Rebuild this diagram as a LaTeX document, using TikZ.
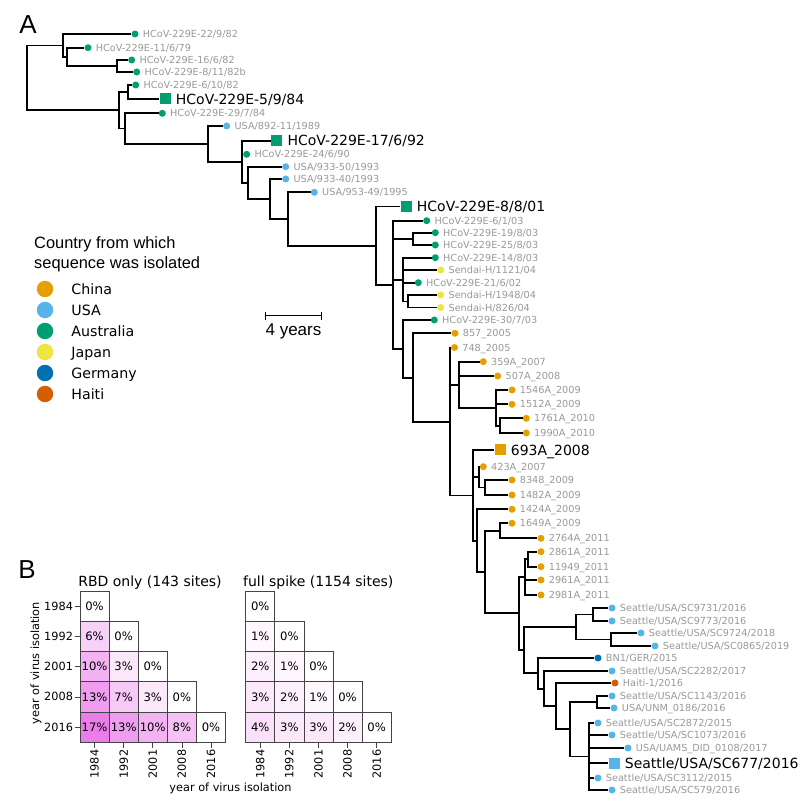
\documentclass[tikz,border=0pt]{standalone}
\usepackage{fontspec}
\setmainfont{DejaVu Sans}
\newfontfamily\arialfont{Liberation Sans}
\usetikzlibrary{arrows.meta}
\definecolor{chn}{HTML}{E69F00}
\definecolor{usa}{HTML}{56B4E9}
\definecolor{aus}{HTML}{009E73}
\definecolor{jpn}{HTML}{F0E442}
\definecolor{ger}{HTML}{0072B2}
\definecolor{hai}{HTML}{D55E00}
\definecolor{labgray}{HTML}{999999}
\definecolor{heat}{RGB}{235,125,235}
\definecolor{cellline}{HTML}{444444}
\newcommand{\tipfont}{\fontsize{9.7}{11}\selectfont}
\newcommand{\reffont}{\fontsize{14}{16}\selectfont}
\newcommand{\heatfont}{\fontsize{11.6}{13}\selectfont}
\newcommand{\axfont}{\fontsize{11.3}{13}\selectfont}
% tip of the tree: name, x, y, country colour, strain
\newcommand{\seqtip}[5]{\node[tipdot=#4] (#1) at (#2,#3) {};
  \node[tiplab] (#1l) at ([xshift=4pt]#1.east) {#5};}
\newcommand{\refseq}[5]{\node[refbox=#4] (#1) at (#2,#3) {};
  \node[reflab] (#1l) at ([xshift=5pt]#1.east) {#5};}

\begin{document}
\begin{tikzpicture}[x=1pt, y=-1pt,
  branch/.style={line width=1.7pt},
  tipdot/.style={circle, fill=#1, inner sep=0pt, minimum size=7pt},
  refbox/.style={fill=#1, inner sep=0pt, minimum size=11pt},
  tiplab/.style={anchor=west, inner sep=0pt, text=labgray, font=\tipfont, text height=7.1pt, text depth=0pt},
  reflab/.style={anchor=west, inner sep=0pt, font=\reffont, text height=10.2pt, text depth=0pt},
  legdot/.style={circle, fill=#1, inner sep=0pt, minimum size=16.5pt},
  leglab/.style={anchor=west, inner sep=0pt, font=\fontsize{14.2}{16}\selectfont, text height=10.3pt, text depth=0pt},
  cell/.style={draw=cellline, line width=0.7pt, minimum width=29.1pt, minimum height=30.25pt, inner sep=0pt, font=\heatfont, text height=8.4pt, text depth=0pt},
  axlab/.style={inner sep=0pt, font=\axfont, text height=8.2pt, text depth=0pt},
  tick/.style={line width=0.7pt, cellline}]
\useasboundingbox[fill=white] (0,0) rectangle (807,799);

\node[font=\arialfont\fontsize{26}{28}\selectfont, inner sep=0pt, text height=18.6pt, text depth=0pt] (panA) at (28,24) {A};
\node[font=\arialfont\fontsize{26}{28}\selectfont, inner sep=0pt, text height=18.6pt, text depth=0pt] (panB) at (27,569) {B};

% tips
\seqtip{t1}{135}{34}{aus}{HCoV-229E-22/9/82}
\seqtip{t2}{88}{47.7}{aus}{HCoV-229E-11/6/79}
\seqtip{t3}{131.7}{60}{aus}{HCoV-229E-16/6/82}
\seqtip{t4}{136.7}{72}{aus}{HCoV-229E-8/11/82b}
\seqtip{t5}{135.7}{85}{aus}{HCoV-229E-6/10/82}
\refseq{t6}{165}{99}{aus}{HCoV-229E-5/9/84}
\seqtip{t7}{162.3}{113.3}{aus}{HCoV-229E-29/7/84}
\seqtip{t8}{226.7}{126}{usa}{USA/892-11/1989}
\refseq{t9}{276.7}{140.7}{aus}{HCoV-229E-17/6/92}
\seqtip{t10}{246.7}{154.3}{aus}{HCoV-229E-24/6/90}
\seqtip{t11}{285.7}{166.7}{usa}{USA/933-50/1993}
\seqtip{t12}{285.7}{179}{usa}{USA/933-40/1993}
\seqtip{t13}{314.3}{192.3}{usa}{USA/953-49/1995}
\refseq{t14}{406}{206.5}{aus}{HCoV-229E-8/8/01}
\seqtip{t15}{426.7}{220.7}{aus}{HCoV-229E-6/1/03}
\seqtip{t16}{435.3}{232.7}{aus}{HCoV-229E-19/8/03}
\seqtip{t17}{435.3}{245}{aus}{HCoV-229E-25/8/03}
\seqtip{t18}{435.3}{257.7}{aus}{HCoV-229E-14/8/03}
\seqtip{t19}{440.7}{270}{jpn}{Sendai-H/1121/04}
\seqtip{t20}{418.3}{282.7}{aus}{HCoV-229E-21/6/02}
\seqtip{t21}{440.7}{295}{jpn}{Sendai-H/1948/04}
\seqtip{t22}{440.7}{307.5}{jpn}{Sendai-H/826/04}
\seqtip{t23}{434.3}{320}{aus}{HCoV-229E-30/7/03}
\seqtip{t24}{455}{333.3}{chn}{857\_2005}
\seqtip{t25}{454.5}{347.5}{chn}{748\_2005}
\seqtip{t26}{483.3}{361.7}{chn}{359A\_2007}
\seqtip{t27}{497.7}{376}{chn}{507A\_2008}
\seqtip{t28}{512}{390}{chn}{1546A\_2009}
\seqtip{t29}{512}{404.3}{chn}{1512A\_2009}
\seqtip{t30}{526.3}{418.3}{chn}{1761A\_2010}
\seqtip{t31}{526.3}{433}{chn}{1990A\_2010}
\refseq{t32}{500}{450}{chn}{693A\_2008}
\seqtip{t33}{483.3}{466.7}{chn}{423A\_2007}
\seqtip{t34}{512}{480}{chn}{8348\_2009}
\seqtip{t35}{512}{495}{chn}{1482A\_2009}
\seqtip{t36}{512}{509.3}{chn}{1424A\_2009}
\seqtip{t37}{512}{523.3}{chn}{1649A\_2009}
\seqtip{t38}{541}{538.3}{chn}{2764A\_2011}
\seqtip{t39}{541}{551.7}{chn}{2861A\_2011}
\seqtip{t40}{541}{566.7}{chn}{11949\_2011}
\seqtip{t41}{541}{580}{chn}{2961A\_2011}
\seqtip{t42}{541}{595}{chn}{2981A\_2011}
\seqtip{t43}{612}{608}{usa}{Seattle/USA/SC9731/2016}
\seqtip{t44}{612}{621}{usa}{Seattle/USA/SC9773/2016}
\seqtip{t45}{641}{633}{usa}{Seattle/USA/SC9724/2018}
\seqtip{t46}{655}{646}{usa}{Seattle/USA/SC0865/2019}
\seqtip{t47}{598}{658}{ger}{BN1/GER/2015}
\seqtip{t48}{612}{671}{usa}{Seattle/USA/SC2282/2017}
\seqtip{t49}{615}{683}{hai}{Haiti-1/2016}
\seqtip{t50}{612}{696}{usa}{Seattle/USA/SC1143/2016}
\seqtip{t51}{614}{708}{usa}{USA/UNM\_0186/2016}
\seqtip{t52}{598}{723}{usa}{Seattle/USA/SC2872/2015}
\seqtip{t53}{612}{735}{usa}{Seattle/USA/SC1073/2016}
\seqtip{t54}{628}{748}{usa}{USA/UAMS\_DID\_0108/2017}
\refseq{t55}{614}{763}{usa}{Seattle/USA/SC677/2016}
\seqtip{t56}{598}{778}{usa}{Seattle/USA/SC3112/2015}
\seqtip{t57}{612}{790}{usa}{Seattle/USA/SC579/2016}

% internal nodes
\coordinate (root) at (26.7,78);
\coordinate (n1) at (63.3,45.5);  \coordinate (n2) at (66.7,57);   \coordinate (n3) at (116.7,66);
\coordinate (n4) at (119,110.25); \coordinate (n5) at (128.3,92);  \coordinate (n6) at (125,128.5);
\coordinate (n7) at (208.3,144);  \coordinate (n8) at (241.7,162); \coordinate (n9) at (248.3,183);
\coordinate (n10) at (270,199);   \coordinate (n11) at (287.7,219); \coordinate (nz) at (376,246);
\coordinate (naa) at (392.7,285); \coordinate (nab) at (413.3,239); \coordinate (nac) at (402.7,280);
\coordinate (nad) at (407.7,301.5); \coordinate (ny) at (402.7,349); \coordinate (nx) at (413.3,378);
\coordinate (nt) at (450,422);    \coordinate (nu) at (459.3,385); \coordinate (nv) at (496,408);
\coordinate (nw) at (500.3,425.7); \coordinate (ns) at (473.3,495.5); \coordinate (nq) at (479,477);
\coordinate (nr) at (485,487.5);  \coordinate (np) at (477.3,541); \coordinate (nn) at (485,572);
\coordinate (no) at (500.3,530.8); \coordinate (nk) at (519.3,613); \coordinate (nl) at (525,577);
\coordinate (nl1) at (528,559.2); \coordinate (nm) at (524.3,650); \coordinate (nc) at (576,627);
\coordinate (na) at (593.3,614.5); \coordinate (nb) at (610.7,639.5); \coordinate (ne) at (537.7,673);
\coordinate (nf) at (544,689);    \coordinate (ng) at (555.7,706); \coordinate (nh) at (570.3,729);
\coordinate (ni) at (597.3,702);  \coordinate (nj) at (589,756.5);

% branches
\foreach \p/\c in {root/n1,root/n4,n1/t1,n1/n2,n2/t2,n2/n3,n3/t3,n3/t4,
    n4/n5,n4/n6,n5/t5,n5/t6,n6/t7,n6/n7,n7/t8,n7/n8,n8/t9,n8/t10,n8/n9,
    n9/t11,n9/n10,n10/t12,n10/n11,n11/t13,n11/nz,nz/t14,nz/naa,
    naa/t15,naa/nab,naa/nac,naa/ny,nab/t16,nab/t17,nac/t18,nac/t19,nac/t20,nac/nad,nad/t21,nad/t22,
    ny/t23,ny/nx,nx/t24,nx/nt,nt/t25,nt/nu,nt/ns,nu/t26,nu/t27,nu/nv,nv/t28,nv/t29,nv/nw,nw/t30,nw/t31,
    ns/t32,ns/nq,ns/np,nq/t33,nq/nr,nr/t34,nr/t35,np/t36,np/nn,nn/no,nn/nk,no/t37,no/t38,
    nk/nl,nk/nm,nl/nl1,nl/t41,nl/t42,nl1/t39,nl1/t40,nm/nc,nm/ne,nc/na,nc/nb,na/t43,na/t44,nb/t45,nb/t46,
    ne/t47,ne/nf,nf/t48,nf/ng,ng/t49,ng/nh,nh/ni,nh/nj,ni/t50,ni/t51,
    nj/t52,nj/t53,nj/t54,nj/t55,nj/t56,nj/t57}
  \draw[branch] (\p) |- (\c);

% legend
\node[anchor=base west, inner sep=0pt, font=\arialfont\fontsize{16.4}{18}\selectfont] (legt1) at (34,249) {Country from which};
\node[anchor=base west, inner sep=0pt, font=\arialfont\fontsize{16.4}{18}\selectfont] (legt2) at (34,268.5) {sequence was isolated};
\foreach \c/\t [count=\i from 0] in {chn/China,usa/USA,aus/Australia,jpn/Japan,ger/Germany,hai/Haiti} {
  \node[legdot=\c] (k\c) at (45,{289+21*\i}) {};
  \node[leglab] (kl\c) at ([xshift=17.75pt]k\c.east) {\t};
}

% scale bar
\coordinate (sbl) at (265,316);
\coordinate (sbr) at (322,316);
\draw[line width=1pt, {Bar[width=8pt]}-{Bar[width=8pt]}] (sbl) -- (sbr);
\node[inner sep=0pt, font=\arialfont\fontsize{17}{19}\selectfont, text height=12.2pt, text depth=0pt] (sbt) at (293.5,329) {4 years};

% panel B
\node[axlab, font=\fontsize{14}{16}\selectfont, text height=10.2pt] (rbdt) at (150,581.5) {RBD only (143 sites)};
\node[axlab, font=\fontsize{14}{16}\selectfont, text height=10.2pt] (spkt) at (318.3,581.5) {full spike (1154 sites)};
\foreach \r/\vals in {0/{0},1/{6,0},2/{10,3,0},3/{13,7,3,0},4/{17,13,10,8,0}} {
  \foreach \v [count=\c from 0] in \vals {
    \pgfmathsetmacro{\pct}{\v/17*100}
    \node[cell, fill=heat!\pct!white] (rbd\r\c) at ({80+(\c+0.5)*29.1},{591+(\r+0.5)*30.25}) {\v\%};
  }
}
\foreach \r/\vals in {0/{0},1/{1,0},2/{2,1,0},3/{3,2,1,0},4/{4,3,3,2,0}} {
  \foreach \v [count=\c from 0] in \vals {
    \pgfmathsetmacro{\pct}{\v/17*100}
    \node[cell, fill=heat!\pct!white] (spk\r\c) at ({245.7+(\c+0.5)*29.1},{591+(\r+0.5)*30.25}) {\v\%};
  }
}
\foreach \yr [count=\i from 0] in {1984,1992,2001,2008,2016} {
  \draw[tick] (rbd\i0.west) -- ++(-5,0);
  \node[axlab, anchor=east] (yl\i) at ([xshift=-6.5pt]rbd\i0.west) {\yr};
  \draw[tick] (rbd4\i.south) -- ++(0,5);
  \node[axlab, rotate=90, anchor=east] (xl\i) at ([yshift=-7pt]rbd4\i.south) {\yr};
  \draw[tick] (spk4\i.south) -- ++(0,5);
  \node[axlab, rotate=90, anchor=east] (xs\i) at ([yshift=-7pt]spk4\i.south) {\yr};
}
\node[axlab, rotate=90] (ytit) at (35,663) {year of virus isolation};
\node[axlab] (xtit) at (230.5,787) {year of virus isolation};
\end{tikzpicture}
\end{document}
